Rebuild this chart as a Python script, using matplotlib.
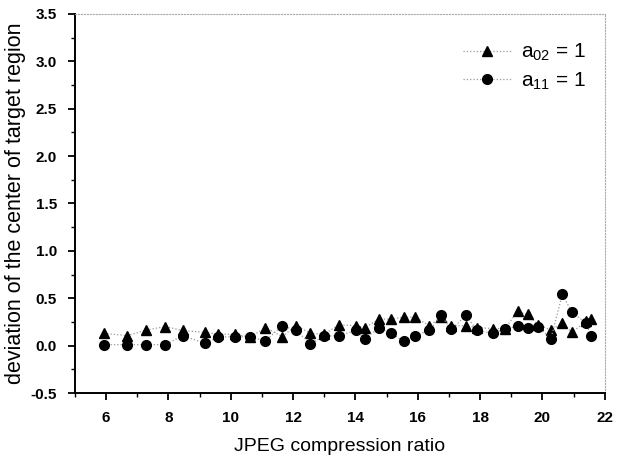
import matplotlib.pyplot as plt
from matplotlib.ticker import MultipleLocator

# данные
ratio = [5.93, 6.68, 7.29, 7.90, 8.46, 9.16, 9.60, 10.12, 10.62, 11.11, 11.65, 12.10,
         12.55, 13.00, 13.46, 14.02, 14.30, 14.76, 15.14, 15.55, 15.91, 16.37, 16.74,
         17.08, 17.55, 17.90, 18.40, 18.80, 19.20, 19.52, 19.87, 20.27, 20.64, 20.94,
         21.40, 21.55]
dev_a02 = [0.13, 0.105, 0.165, 0.20, 0.16, 0.14, 0.12, 0.12, 0.09, 0.19, 0.095, 0.21,
           0.13, 0.12, 0.22, 0.21, 0.19, 0.28, 0.28, 0.30, 0.30, 0.21, 0.30,
           0.21, 0.21, 0.19, 0.18, 0.18, 0.36, 0.33, 0.22, 0.165, 0.235, 0.14,
           0.255, 0.28]
dev_a11 = [0.01, 0.01, 0.01, 0.01, 0.105, 0.025, 0.09, 0.095, 0.09, 0.05, 0.21, 0.16,
           0.02, 0.10, 0.105, 0.16, 0.07, 0.19, 0.13, 0.045, 0.105, 0.16, 0.32,
           0.17, 0.32, 0.16, 0.13, 0.17, 0.21, 0.19, 0.20, 0.07, 0.545, 0.35,
           0.24, 0.105]

plt.rcParams['font.family'] = ['Liberation Sans', 'DejaVu Sans']
plt.rcParams['mathtext.fontset'] = 'custom'
plt.rcParams['mathtext.rm'] = 'Liberation Sans'

fig = plt.figure(figsize=(6.3, 4.61), dpi=100)
ax = fig.add_axes([0.119, 0.1475, 0.841, 0.8225])

ax.plot(ratio, dev_a02, linestyle=':', color='#999999', linewidth=0.9,
        marker='^', markersize=7.5, markerfacecolor='black', markeredgecolor='black',
        label=r'$\mathregular{a_{02}}$ = 1')
ax.plot(ratio, dev_a11, linestyle=':', color='#999999', linewidth=0.9,
        marker='o', markersize=7, markerfacecolor='black', markeredgecolor='black',
        label=r'$\mathregular{a_{11}}$ = 1')

ax.set_xlim(5, 22)
ax.set_ylim(-0.5, 3.5)
ax.xaxis.set_major_locator(MultipleLocator(2))
ax.xaxis.set_minor_locator(MultipleLocator(1))
ax.yaxis.set_major_locator(MultipleLocator(0.5))
ax.yaxis.set_minor_locator(MultipleLocator(0.25))
ax.yaxis.set_major_formatter(plt.FuncFormatter(lambda v, p: f'{v:.1f}'))

ax.tick_params(which='major', direction='out', length=5, width=1.3, labelsize=11,
               top=False, right=False)
ax.tick_params(axis='x', which='major', pad=8)
ax.tick_params(axis='y', which='major', pad=8)
ax.tick_params(which='minor', direction='out', length=3, width=1, top=False, right=False)
for lab in ax.get_xticklabels() + ax.get_yticklabels():
    lab.set_fontweight('bold')

for side in ['left', 'bottom']:
    ax.spines[side].set_linewidth(1.4)
for side in ['top', 'right']:
    ax.spines[side].set_linestyle(':')
    ax.spines[side].set_color('#aaaaaa')
    ax.spines[side].set_linewidth(0.8)

ax.set_xlabel('JPEG compression ratio', fontsize=14)
ax.set_ylabel('deviation of the center of target region', fontsize=15.5)
ax.xaxis.set_label_coords(0.5, -0.118)
ax.yaxis.set_label_coords(-0.092, 0.5)

leg = ax.legend(loc='upper right', frameon=False, fontsize=15, handlelength=2.3,
                bbox_to_anchor=(1.0, 0.975), labelspacing=0.35, handletextpad=0.5)

fig.savefig('out.png', dpi=100)
